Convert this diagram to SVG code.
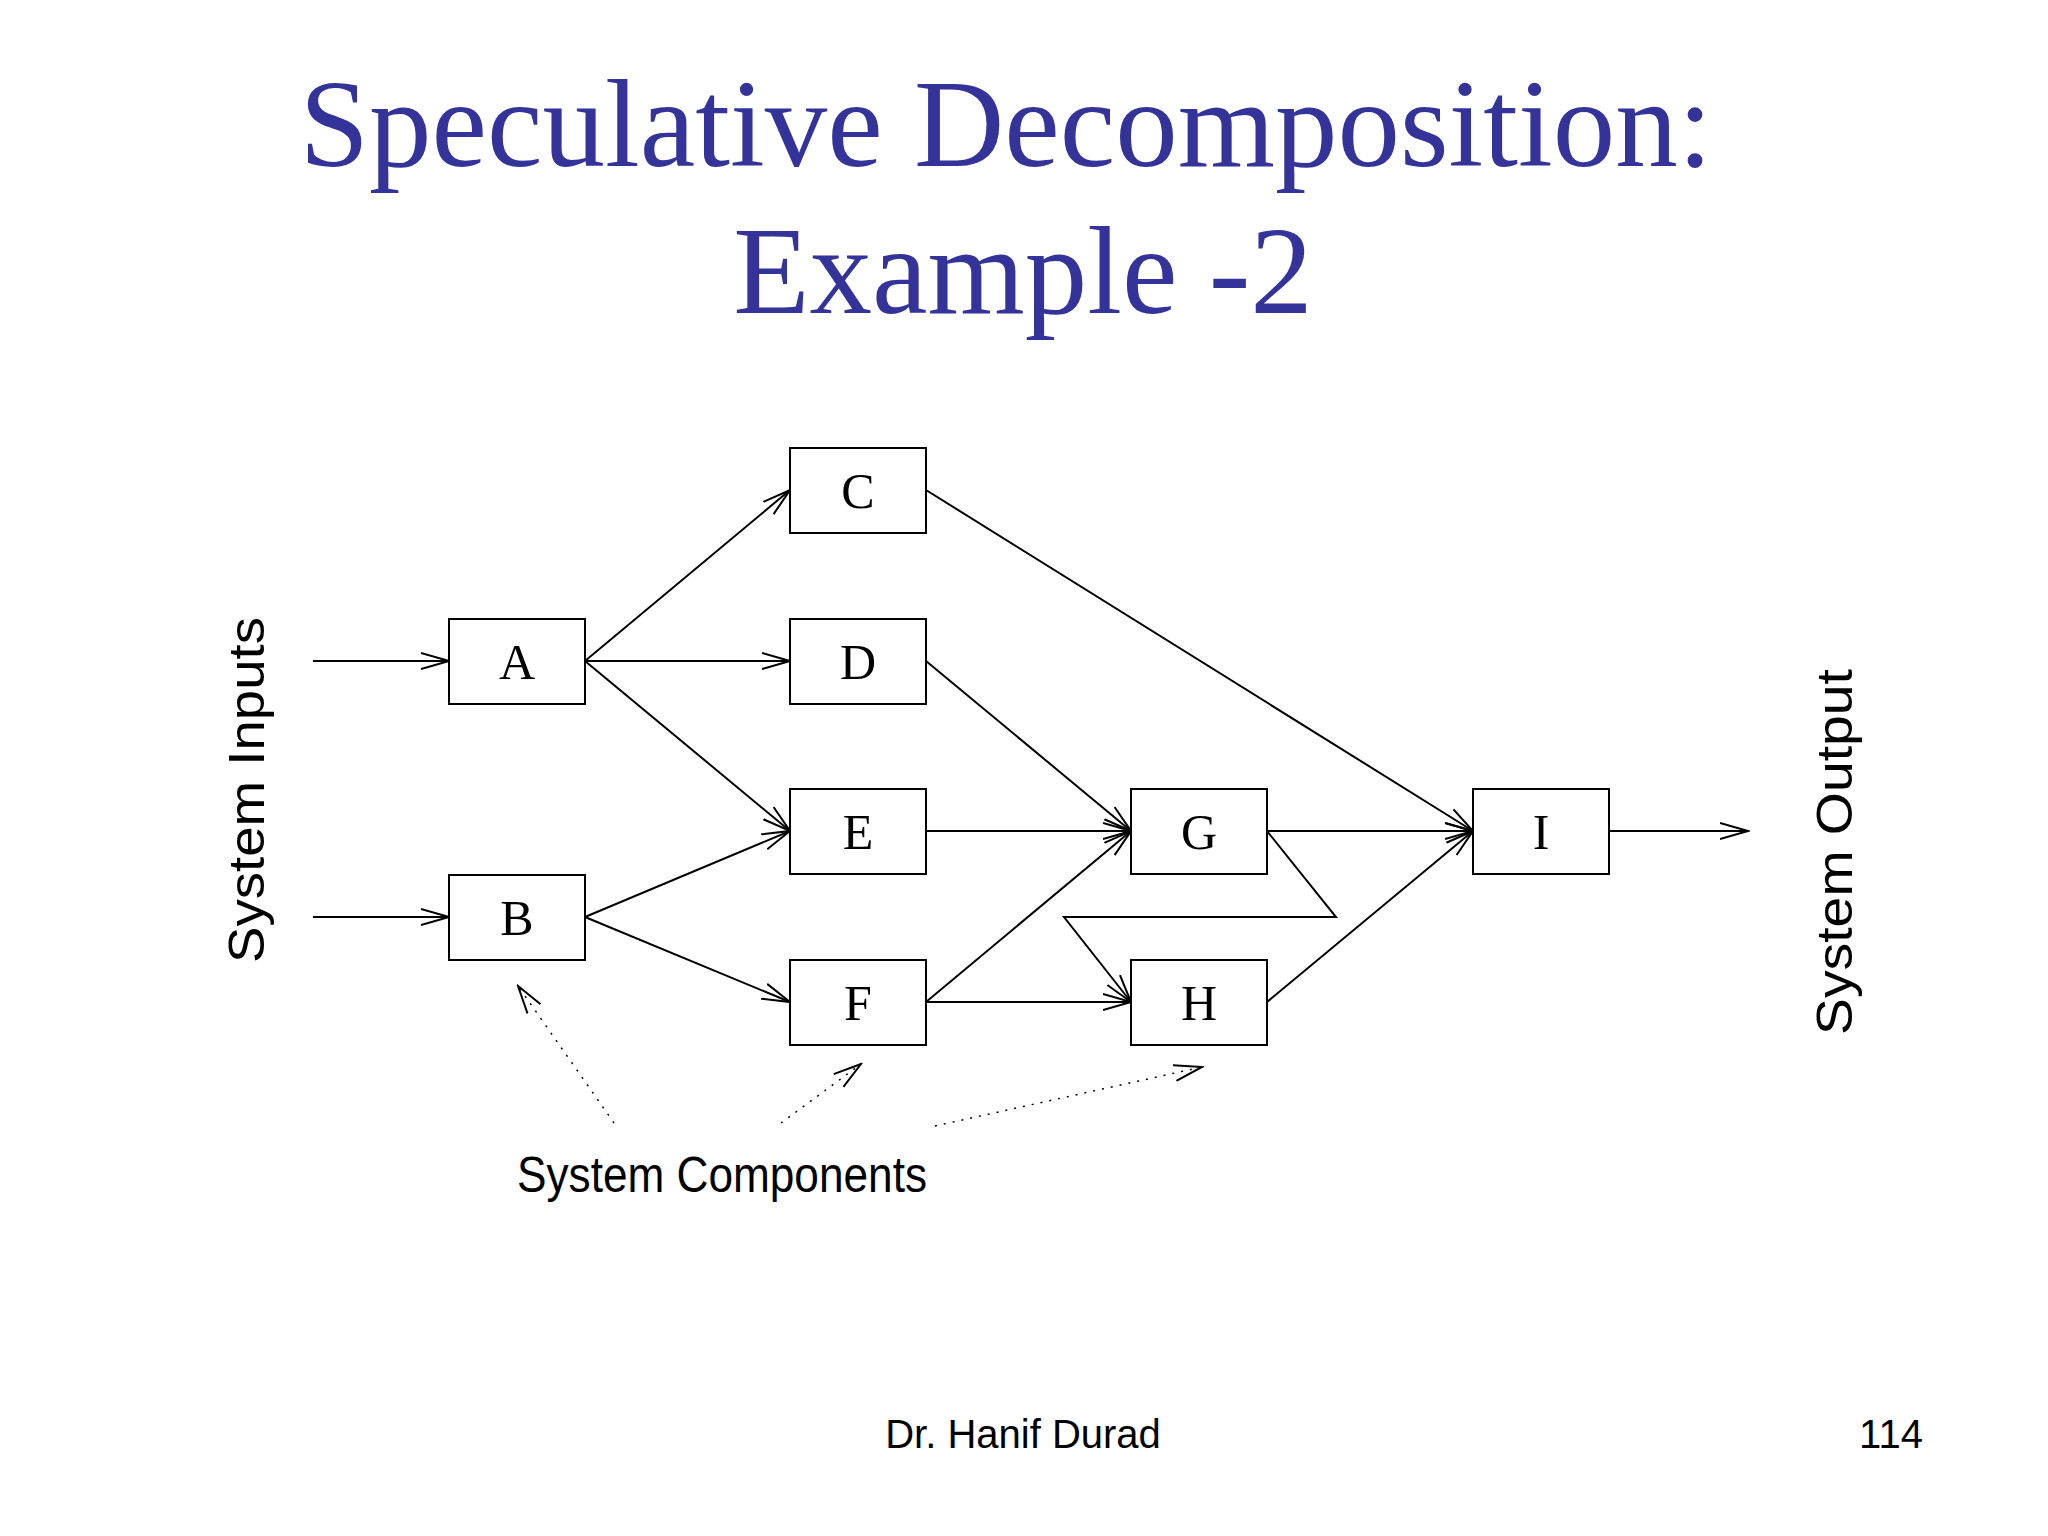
<svg xmlns="http://www.w3.org/2000/svg" width="2048" height="1536" viewBox="0 0 2048 1536">
<style>
.box{fill:#fff;stroke:#000;stroke-width:2}
.lbl{font-family:"Liberation Serif",serif;font-size:50px;text-anchor:middle}
.e{fill:none;stroke:#000;stroke-width:2;marker-end:url(#ah)}
.d{fill:none;stroke:#000;stroke-width:1.5;stroke-dasharray:2 7;marker-end:url(#ah)}
.sans{font-family:"Liberation Sans",Arial,sans-serif}
</style>
<defs>
<marker id="ah" markerWidth="30" markerHeight="20" refX="28" refY="10" orient="auto" markerUnits="userSpaceOnUse">
<path d="M0,2 L28,10 L0,18" fill="none" stroke="#000" stroke-width="2"/>
</marker>
</defs>
<rect width="2048" height="1536" fill="#fff"/>
<text x="1006" y="166" font-family="Liberation Serif,serif" font-size="125" fill="#333399" text-anchor="middle">Speculative Decomposition:</text>
<text x="1023" y="313" font-family="Liberation Serif,serif" font-size="125" fill="#333399" text-anchor="middle">Example -2</text>
<g id="connectors">
<line class="e" x1="313" y1="661" x2="449" y2="661"/>
<line class="e" x1="313" y1="917" x2="449" y2="917"/>
<line class="e" x1="585" y1="661" x2="790" y2="490"/>
<line class="e" x1="585" y1="661" x2="790" y2="661"/>
<line class="e" x1="585" y1="661" x2="790" y2="831"/>
<line class="e" x1="585" y1="917" x2="790" y2="831"/>
<line class="e" x1="585" y1="917" x2="790" y2="1002"/>
<line class="e" x1="926" y1="490" x2="1473" y2="831"/>
<line class="e" x1="926" y1="661" x2="1131" y2="831"/>
<line class="e" x1="926" y1="831" x2="1131" y2="831"/>
<line class="e" x1="926" y1="1002" x2="1131" y2="831"/>
<line class="e" x1="926" y1="1002" x2="1131" y2="1002"/>
<line class="e" x1="1267" y1="831" x2="1473" y2="831"/>
<polyline class="e" points="1267,831 1336,917 1064,917 1131,1002"/>
<line class="e" x1="1267" y1="1002" x2="1473" y2="831"/>
<line class="e" x1="1609" y1="831" x2="1748" y2="831"/>
<line class="d" x1="614" y1="1123" x2="518" y2="986"/>
<line class="d" x1="781" y1="1123" x2="861" y2="1064"/>
<line class="d" x1="935" y1="1126" x2="1202" y2="1067"/>
</g>
<g id="A"><rect class="box" x="449" y="619" width="136" height="85"/><text class="lbl" x="517" y="679">A</text></g>
<g id="B"><rect class="box" x="449" y="875" width="136" height="85"/><text class="lbl" x="517" y="935">B</text></g>
<g id="C"><rect class="box" x="790" y="448" width="136" height="85"/><text class="lbl" x="858" y="508">C</text></g>
<g id="D"><rect class="box" x="790" y="619" width="136" height="85"/><text class="lbl" x="858" y="679">D</text></g>
<g id="E"><rect class="box" x="790" y="789" width="136" height="85"/><text class="lbl" x="858" y="849">E</text></g>
<g id="F"><rect class="box" x="790" y="960" width="136" height="85"/><text class="lbl" x="858" y="1020">F</text></g>
<g id="G"><rect class="box" x="1131" y="789" width="136" height="85"/><text class="lbl" x="1199" y="849">G</text></g>
<g id="H"><rect class="box" x="1131" y="960" width="136" height="85"/><text class="lbl" x="1199" y="1020">H</text></g>
<g id="I"><rect class="box" x="1473" y="789" width="136" height="85"/><text class="lbl" x="1541" y="849">I</text></g>
<text class="sans" x="517" y="1192" font-size="50" textLength="410" lengthAdjust="spacingAndGlyphs">System Components</text>
<text class="sans" transform="translate(264,790) rotate(-90)" font-size="50" text-anchor="middle" textLength="346" lengthAdjust="spacingAndGlyphs">System Inputs</text>
<text class="sans" transform="translate(1852,852) rotate(-90)" font-size="50" text-anchor="middle" textLength="366" lengthAdjust="spacingAndGlyphs">System Output</text>
<text class="sans" x="1023" y="1448" font-size="40" text-anchor="middle">Dr. Hanif Durad</text>
<text class="sans" x="1891" y="1448" font-size="40" text-anchor="middle">114</text>
</svg>
